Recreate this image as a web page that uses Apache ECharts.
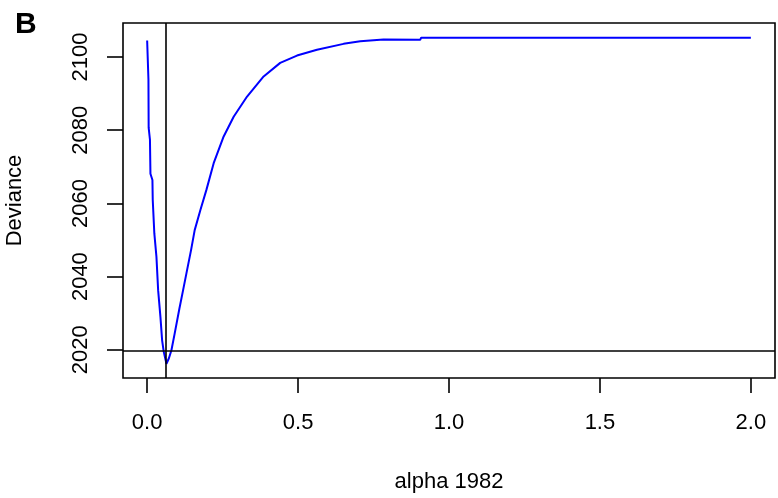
<!DOCTYPE html>
<html>
<head>
<meta charset="utf-8">
<script src="https://cdn.jsdelivr.net/npm/echarts@6/dist/echarts.min.js"></script>
<style>
  html, body { margin: 0; padding: 0; background: #ffffff; }
  #chart { width: 778px; height: 498px; }
</style>
</head>
<body>
<div id="chart"></div>
<script>
// Deviance profile over the smoothing parameter alpha (1982)
const alpha = [0, 0.0043, 0.005, 0.0093, 0.0109, 0.0175, 0.0185, 0.0238, 0.0308, 0.0364,
  0.044, 0.0496, 0.0549, 0.0639, 0.0721, 0.0804, 0.0913, 0.1069, 0.1191, 0.1301,
  0.1456, 0.1575, 0.1764, 0.1963, 0.2204, 0.2535, 0.2866, 0.331, 0.3859, 0.4408,
  0.4964, 0.5626, 0.6507, 0.706, 0.7831, 0.9045, 0.9078, 2.0];
const deviance = [2104.5, 2093.8, 2080.7, 2077.4, 2068.1, 2066.4, 2061.0, 2051.8, 2045.4, 2036.3,
  2029.0, 2022.6, 2019.5, 2016.2, 2017.7, 2019.9, 2024.5, 2031.3, 2036.3, 2040.9,
  2047.3, 2052.7, 2058.2, 2063.7, 2071.0, 2078.3, 2083.7, 2089.2, 2094.7, 2098.4,
  2100.4, 2102.0, 2103.6, 2104.3, 2104.8, 2104.7, 2105.3, 2105.3];

const xTicks = [0, 0.5, 1.0, 1.5, 2.0];
const yTicks = [2020, 2040, 2060, 2080, 2100];

// Reference lines: best alpha and the deviance cut-off
const bestAlpha = 0.0639;
const devianceCutoff = 2019.7;

const panelLabel = 'B';

const FONT = '"Liberation Sans", Arial, sans-serif';
const INK = 1.6;

const chart = echarts.init(document.getElementById('chart'), null, { renderer: 'canvas' });

chart.setOption({
  animation: false,
  backgroundColor: '#ffffff',
  grid: {
    left: 123, right: 3, top: 23, bottom: 120,
    containLabel: false,
    outerBoundsMode: 'none',
    show: true, borderColor: '#000000', borderWidth: INK, backgroundColor: 'transparent'
  },
  graphic: [{
    type: 'text', left: 15, top: 10,
    style: { text: panelLabel, fill: '#000000', font: 'bold 30px ' + FONT }
  }],
  xAxis: {
    type: 'value',
    min: -0.08, max: 2.08,
    name: 'alpha 1982',
    nameLocation: 'middle',
    nameGap: 93,
    nameTextStyle: { color: '#000000', fontSize: 22, fontFamily: FONT },
    axisLine: { show: false, onZero: false },
    splitLine: { show: false },
    axisTick: {
      show: true, length: 15, inside: false, customValues: xTicks,
      lineStyle: { color: '#000000', width: INK }
    },
    axisLabel: {
      show: true, margin: 34, customValues: xTicks,
      color: '#000000', fontSize: 22, fontFamily: FONT,
      formatter: v => Number(v).toFixed(1)
    }
  },
  yAxis: {
    type: 'value',
    min: 2012.3, max: 2109.3,
    name: 'Deviance',
    nameLocation: 'middle',
    nameGap: 97,
    nameRotate: 90,
    nameTextStyle: { color: '#000000', fontSize: 22, fontFamily: FONT },
    axisLine: { show: false, onZero: false },
    splitLine: { show: false },
    axisTick: {
      show: true, length: 16, inside: false, customValues: yTicks,
      lineStyle: { color: '#000000', width: INK }
    },
    axisLabel: {
      show: true, margin: 31, rotate: 90, customValues: yTicks,
      color: '#000000', fontSize: 22, fontFamily: FONT,
      formatter: v => String(v)
    }
  },
  series: [{
    type: 'line',
    data: alpha.map((a, i) => [a, deviance[i]]),
    showSymbol: false,
    symbol: 'none',
    lineStyle: { color: '#0000ff', width: 2 },
    z: 3,
    markLine: {
      silent: true,
      symbol: ['none', 'none'],
      label: { show: false },
      lineStyle: { color: '#000000', width: INK, type: 'solid' },
      data: [{ xAxis: bestAlpha }, { yAxis: devianceCutoff }]
    }
  }]
});
</script>
</body>
</html>
